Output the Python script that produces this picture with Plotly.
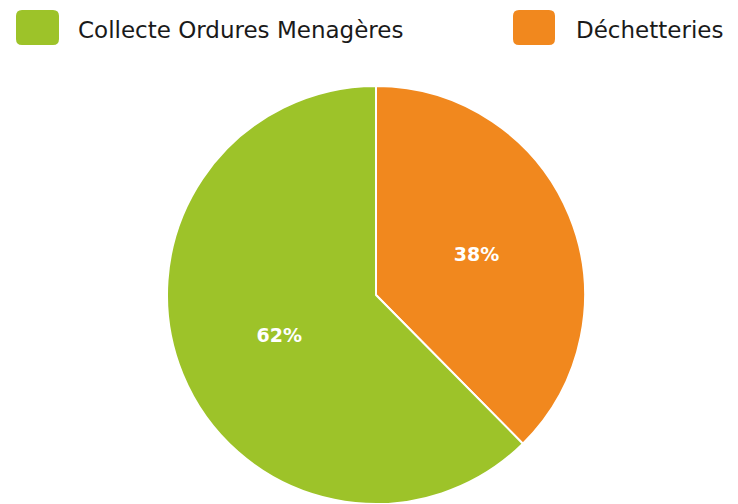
import plotly.graph_objects as go

# Data (legend order)
labels = ["Collecte Ordures Menagères", "Déchetteries"]
values = [62.4, 37.6]
colors = ["#9DC329", "#F1881E"]

W, H = 738, 504

def px(x):
    return x / W

def py(y):
    return 1 - y / H

def rrect(x0, y0, x1, y1, r):
    return (f"M {px(x0 + r)},{py(y0)} L {px(x1 - r)},{py(y0)} "
            f"Q {px(x1)},{py(y0)} {px(x1)},{py(y0 + r)} "
            f"L {px(x1)},{py(y1 - r)} Q {px(x1)},{py(y1)} {px(x1 - r)},{py(y1)} "
            f"L {px(x0 + r)},{py(y1)} Q {px(x0)},{py(y1)} {px(x0)},{py(y1 - r)} "
            f"L {px(x0)},{py(y0 + r)} Q {px(x0)},{py(y0)} {px(x0 + r)},{py(y0)} Z")

# slices drawn clockwise from 12 o'clock: Déchetteries first, then Collecte
order = [1, 0]
fig = go.Figure(go.Pie(
    labels=[labels[i] for i in order],
    values=[values[i] for i in order],
    sort=False,
    direction="clockwise",
    rotation=0,
    marker=dict(colors=[colors[i] for i in order], line=dict(color="white", width=2)),
    texttemplate="%{percent:.0%}",
    textposition="inside",
    insidetextorientation="horizontal",
    textfont=dict(family="DejaVu Sans", size=19, color="white", weight="bold"),
    domain=dict(x=[px(166), px(586)], y=[0, py(86)]),
    showlegend=False,
    hoverinfo="label+percent",
))

legend_items = [(16, 59, 76), (513, 555, 574)]
shapes = []
annotations = []
for (x0, x1, tx), lab, col in zip(legend_items, labels, colors):
    shapes.append(dict(type="path", xref="paper", yref="paper",
                       path=rrect(x0, 10, x1, 45, 6),
                       fillcolor=col, line=dict(width=0)))
    annotations.append(dict(xref="paper", yref="paper", x=px(tx), y=py(30),
                            xanchor="left", yanchor="middle", showarrow=False,
                            text=lab, font=dict(family="DejaVu Sans", size=23, color="#1a1a1a")))

fig.update_layout(
    width=W, height=H,
    margin=dict(l=0, r=0, t=0, b=0),
    paper_bgcolor="white",
    plot_bgcolor="white",
    shapes=shapes,
    annotations=annotations,
)

fig.write_html("out.html", config={"displayModeBar": False},
               post_script="document.body.style.margin='0px';")
